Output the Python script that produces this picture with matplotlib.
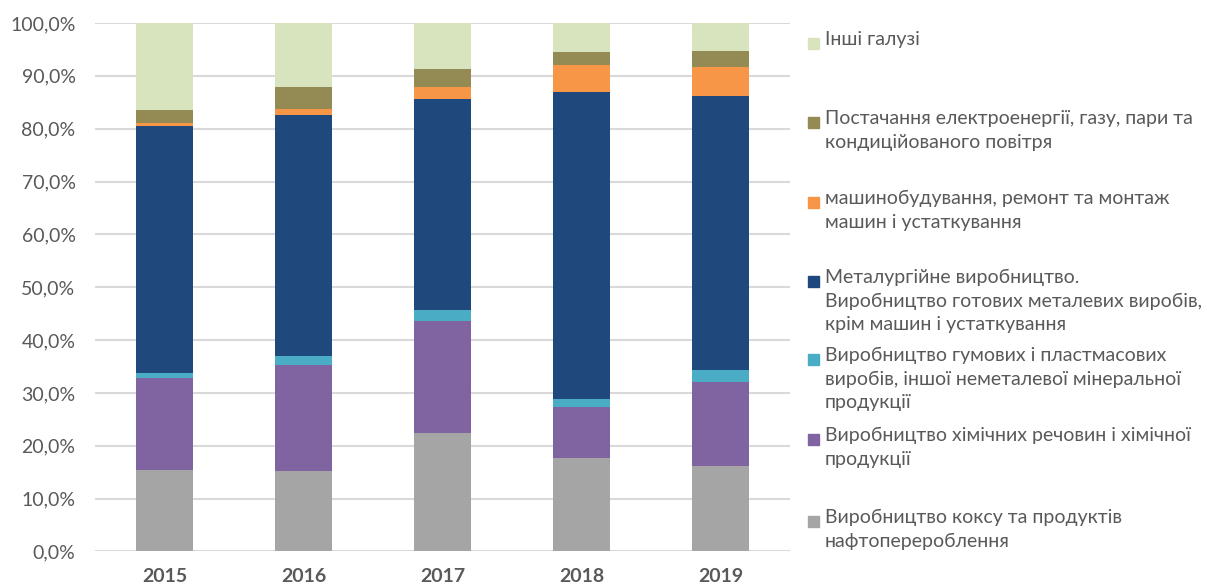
import numpy as np
import matplotlib
matplotlib.use("Agg")
import matplotlib.pyplot as plt
from matplotlib.patches import Rectangle
from matplotlib.ticker import FuncFormatter

# ── data (shares, %) ──────────────────────────────────────────────────────────
years = ["2015", "2016", "2017", "2018", "2019"]

coke      = [15.4, 15.2, 22.5, 17.7, 16.2]
chemical  = [17.4, 20.1, 21.2,  9.7, 15.8]
rubber    = [ 1.0,  1.6,  1.9,  1.5,  2.4]
metal     = [46.7, 45.6, 40.0, 58.0, 51.7]
machinery = [ 0.5,  1.2,  2.2,  5.1,  5.6]
energy    = [ 2.5,  4.1,  3.4,  2.5,  3.0]
other     = [16.5, 12.2,  8.8,  5.5,  5.3]

labels = [
    "Виробництво коксу та продуктів\nнафтоперероблення",
    "Виробництво хімічних речовин і хімічної\nпродукції",
    "Виробництво гумових і пластмасових\nвиробів, іншої неметалевої мінеральної\nпродукції",
    "Металургійне виробництво.\nВиробництво готових металевих виробів,\nкрім машин і устаткування",
    "машинобудування, ремонт та монтаж\nмашин і устаткування",
    "Постачання електроенергії, газу, пари та\nкондиційованого повітря",
    "Інші галузі",
]
series = [coke, chemical, rubber, metal, machinery, energy, other]
colors = ["#a5a5a5", "#8064a2", "#4bacc6", "#1f497d", "#f79646", "#948a54", "#d7e4bd"]

TEXT = "#595959"
plt.rcParams["font.family"] = ["Lato", "DejaVu Sans"]

fig = plt.figure(figsize=(12.07, 5.88), dpi=100)
ax = fig.add_axes([0.0787, 0.0621, 0.576, 0.8988])

x = np.arange(len(years))
bottom = np.zeros(len(years))
for vals, col in zip(series, colors):
    ax.bar(x, vals, width=0.41, bottom=bottom, color=col, zorder=3)
    bottom += np.array(vals)

ax.set_xlim(-0.5, len(years) - 0.5)
ax.set_ylim(0, 100)
ax.set_yticks(np.arange(0, 101, 10))
ax.yaxis.set_major_formatter(FuncFormatter(lambda v, p: f"{v:.1f}%".replace(".", ",")))
ax.grid(axis="y", color="#d9d9d9", linewidth=1.5, zorder=0)
for s in ax.spines.values():
    s.set_visible(False)
ax.tick_params(axis="both", length=0, colors=TEXT, labelsize=14)
ax.tick_params(axis="y", pad=14)
ax.set_xticks(x)
ax.set_xticklabels(years, fontweight="bold")
ax.tick_params(axis="x", pad=12)

# ── legend (manual, Excel-style spacing) ─────────────────────────────────────
W, H = 1207, 588
legend_y = [521, 439, 359, 281, 202, 122, 43]  # first-line centres, px from top
for lab, col, yy in zip(labels, colors, legend_y):
    fig.patches.append(Rectangle((808 / W, 1 - (yy + 6) / H), 11 / W, 11 / H,
                                 transform=fig.transFigure, color=col))
    fig.text(825 / W, 1 - (yy - 12) / H, lab, color=TEXT, fontsize=14,
             va="top", ha="left", linespacing=1.47)

plt.savefig("out.png", dpi=100)
